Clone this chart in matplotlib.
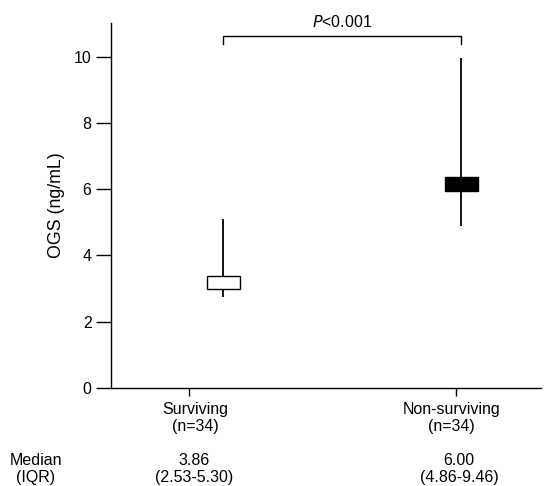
import numpy as np
import matplotlib
matplotlib.use("Agg")
import matplotlib.pyplot as plt
import matplotlib.transforms as mtransforms

plt.rcParams['font.family'] = ['Liberation Sans', 'DejaVu Sans']
plt.rcParams['font.size'] = 11.5

groups = ["Surviving\n(n=34)", "Non-surviving\n(n=34)"]
medians_txt = ["3.86\n(2.53-5.30)", "6.00\n(4.86-9.46)"]
box_low = [2.98, 5.96]
box_high = [3.37, 6.37]
whisk_low = [2.75, 4.89]
whisk_high = [5.09, 9.98]
fills = ["white", "black"]

tick_pos = np.array([1.0, 2.0])
box_pos = np.array([1.128, 2.021])

fig = plt.figure(figsize=(5.53, 4.86), dpi=100)
ax = fig.add_axes([0.2007, 0.2023, 0.7773, 0.7507])

for i in range(2):
    ax.vlines(box_pos[i], whisk_low[i], whisk_high[i], color="black", lw=1.3, zorder=1)
    ax.bar(box_pos[i], box_high[i] - box_low[i], bottom=box_low[i], width=0.124,
           color=fills[i], edgecolor="black", lw=1.0, zorder=2)

# significance bracket
yb, yt = 10.39, 10.64
ax.plot([box_pos[0], box_pos[0], box_pos[1], box_pos[1]], [yb, yt, yt, yb],
        color="black", lw=1.0, clip_on=False)
ax.text(box_pos.mean(), yt + 0.17, r"$\it{P}$<0.001", ha="center", va="bottom")

ax.set_xlim(0.706, 2.32)
ax.set_ylim(0, 11.03)
ax.set_yticks([0, 2, 4, 6, 8, 10])
ax.set_xticks(tick_pos)
ax.set_xticklabels(groups, linespacing=1.2)
ax.tick_params(axis="y", length=11, width=1, pad=3)
ax.tick_params(axis="x", length=6, width=1, pad=4)
ax.set_ylabel("OGS (ng/mL)", fontsize=12.8, labelpad=6)

# labels in the original sit a little off their ticks
shifts = [6, -4]
for lab, dx in zip(ax.get_xticklabels(), shifts):
    lab.set_transform(lab.get_transform() +
                      mtransforms.ScaledTranslation(dx / 100, 0, fig.dpi_scale_trans))

for s in ["top", "right"]:
    ax.spines[s].set_visible(False)
for s in ["left", "bottom"]:
    ax.spines[s].set_linewidth(1.0)

# median / IQR row
ym = 1 - 469 / 486
fig.text(36 / 553, ym, "Median\n(IQR)", ha="center", va="center", linespacing=1.2)
med_x = [194.5, 459]
for i in range(2):
    fig.text(med_x[i] / 553, ym, medians_txt[i], ha="center", va="center", linespacing=1.2)

fig.savefig("out.png", dpi=100)
